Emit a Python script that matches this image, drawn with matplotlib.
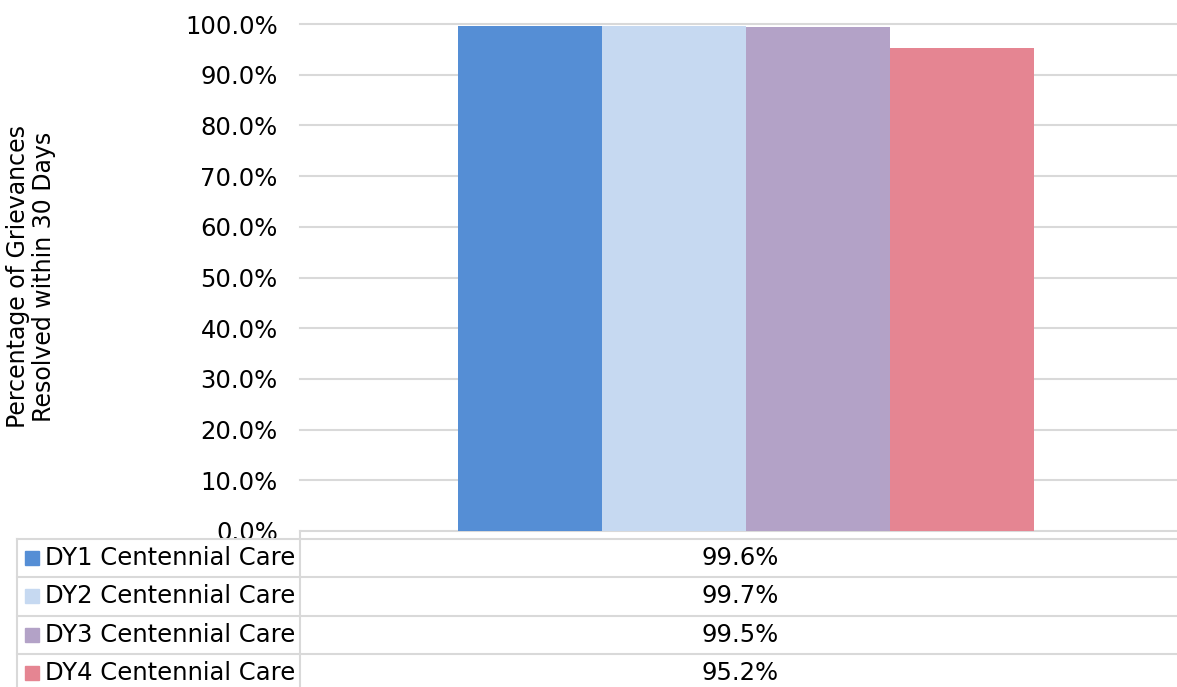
import numpy as np
import matplotlib as mpl
mpl.use('Agg')
import matplotlib.pyplot as plt
from matplotlib.lines import Line2D
from matplotlib.patches import Rectangle

# data
series = ['DY1 Centennial Care', 'DY2 Centennial Care', 'DY3 Centennial Care', 'DY4 Centennial Care']
values = [0.996, 0.997, 0.995, 0.952]
value_labels = ['99.6%', '99.7%', '99.5%', '95.2%']
colors = ['#558ED5', '#C6D9F1', '#B3A2C7', '#E58592']
ylabel = 'Percentage of Grievances\nResolved within 30 Days'

W, H = 1177, 687
GRID = '#D9D9D9'
FS = 17.5

def fx(x): return x / W
def fy(y): return 1 - y / H

fig = plt.figure(figsize=(W/100, H/100), dpi=100)
ax = fig.add_axes([fx(300), fy(531), fx(1177) - fx(300), fy(24) - fy(531)])

# bars, width 1, centred round 0
offs = np.arange(len(values)) - (len(values) - 1) / 2
ax.bar(offs, values, width=1.0, color=colors, zorder=3)
ax.set_xlim(-445.5/144, 431.5/144)
ax.set_ylim(0, 1)
ticks = np.arange(0, 1.01, 0.1)
ax.set_yticks(ticks)
ax.set_yticklabels(['%.1f%%' % (v*100) for v in ticks], fontsize=FS)
ax.yaxis.grid(True, color=GRID, linewidth=1.5, zorder=0)
for gl in ax.yaxis.get_gridlines():
  gl.set_clip_on(False)
ax.set_xticks([])
ax.tick_params(axis='y', length=0, pad=16)
for s in ax.spines.values():
  s.set_visible(False)
ax.set_axisbelow(True)

fig.text(fx(31), fy(277), ylabel, rotation=90, ha='center', va='center', fontsize=17, linespacing=1.1)

# data table below the axis
row_tops = [539, 577, 616, 654]
row_h = 38
for y in row_tops:
  fig.add_artist(Line2D([fx(17), fx(1177)], [fy(y), fy(y)], color=GRID, linewidth=1.5))
fig.add_artist(Line2D([fx(17), fx(17)], [fy(539), fy(687)], color=GRID, linewidth=1.5))
fig.add_artist(Line2D([fx(300), fx(300)], [fy(531), fy(687)], color=GRID, linewidth=1.5))

for i, (name, lab, c) in enumerate(zip(series, value_labels, colors)):
  yc = row_tops[i] + row_h / 2
  fig.add_artist(Rectangle((fx(25), fy(yc + 7)), fx(14), 14 / H, color=c, transform=fig.transFigure))
  fig.text(fx(45), fy(yc), name, ha='left', va='center', fontsize=FS)
  fig.text(fx(740), fy(yc), lab, ha='center', va='center', fontsize=FS)

plt.savefig('out.png', dpi=100)
plt.close()
